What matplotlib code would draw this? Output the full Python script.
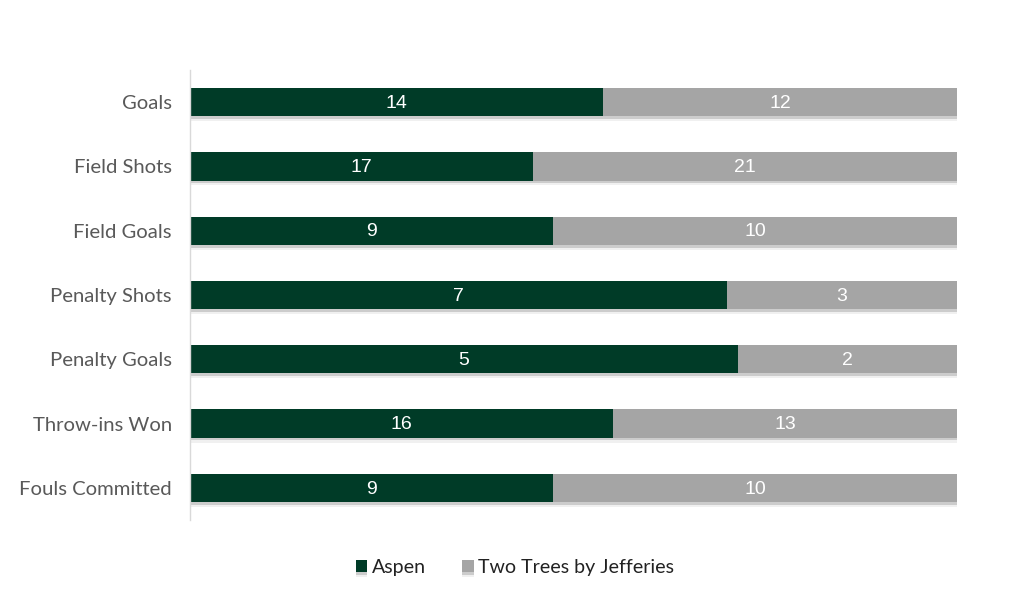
import matplotlib.pyplot as plt
import matplotlib.patheffects as pe

categories = ['Goals', 'Field Shots', 'Field Goals', 'Penalty Shots',
              'Penalty Goals', 'Throw-ins Won', 'Fouls Committed']
aspen = [14, 17, 9, 7, 5, 16, 9]
two_trees = [12, 21, 10, 3, 2, 13, 10]

GREEN = '#003b27'
GRAY = '#a5a5a5'

totals = [a + b for a, b in zip(aspen, two_trees)]
aspen_pct = [a / t for a, t in zip(aspen, totals)]
tt_pct = [b / t for b, t in zip(two_trees, totals)]

fig = plt.figure(figsize=(10.24, 6.06), dpi=100)
ax = fig.add_axes([0.1855, 0.142, 0.7491, 0.7425])

y = list(range(len(categories)))
shadow = [pe.SimplePatchShadow(offset=(0, -2), shadow_rgbFace='#000000', alpha=0.15),
          pe.SimplePatchShadow(offset=(0, -3.5), shadow_rgbFace='#000000', alpha=0.06),
          pe.Normal()]

b1 = ax.barh(y, aspen_pct, height=0.44, color=GREEN, label='Aspen')
b2 = ax.barh(y, tt_pct, left=aspen_pct, height=0.44, color=GRAY,
             label='Two Trees by Jefferies')
for bar in list(b1) + list(b2):
    bar.set_path_effects(shadow)

for i in y:
    ax.text(aspen_pct[i] / 2, i + 0.02, str(aspen[i]), ha='center', va='center',
            color='white', fontsize=14, family='Liberation Sans')
    ax.text(aspen_pct[i] + tt_pct[i] / 2, i + 0.02, str(two_trees[i]), ha='center',
            va='center', color='white', fontsize=14, family='Liberation Sans')

ax.set_xlim(0, 1)
ax.set_ylim(len(categories) - 0.5, -0.5)
ax.set_yticks(y)
ax.set_yticklabels(categories, family='Lato', fontsize=14.6, color='#595959')
ax.tick_params(axis='y', length=0, pad=13)
ax.set_xticks([])
for s in ['top', 'right', 'bottom']:
    ax.spines[s].set_visible(False)
ax.spines['left'].set_color('#d9d9d9')
ax.spines['left'].set_linewidth(1.0)

leg = fig.legend(handles=[b1, b2], loc='center', bbox_to_anchor=(0.503, 0.064),
                 ncol=2, frameon=False, handlelength=0.6, handleheight=0.6,
                 handletextpad=0.25, columnspacing=1.8,
                 prop={'family': 'Lato', 'size': 14.1})
for t in leg.get_texts():
    t.set_color('#222222')

fig.savefig('out.png', dpi=100)
